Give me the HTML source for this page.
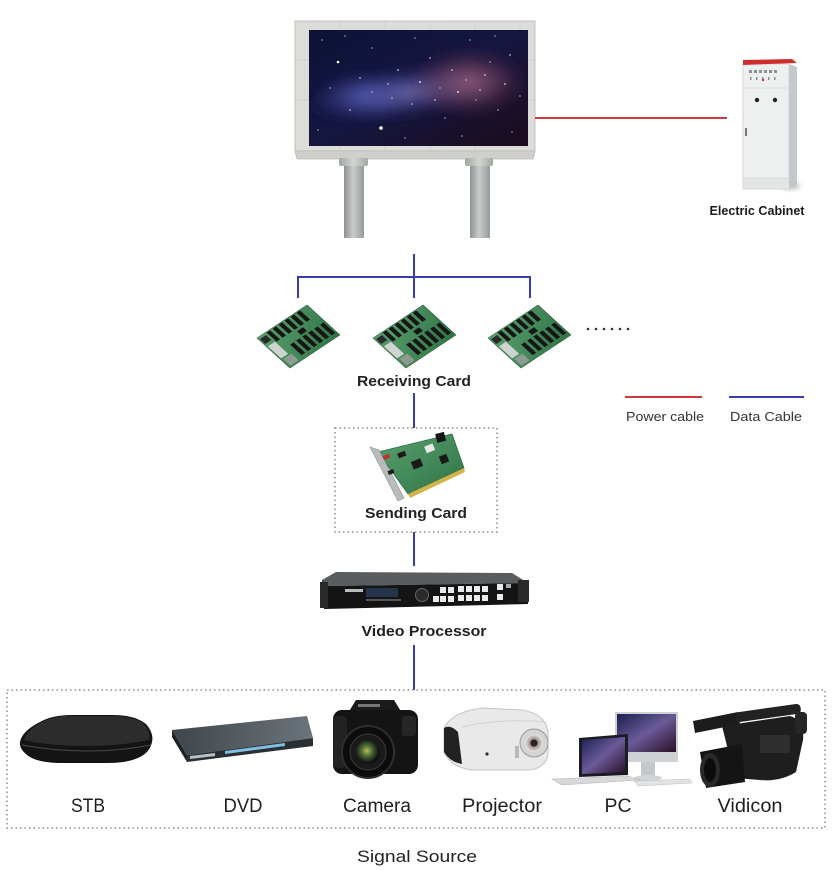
<!DOCTYPE html>
<html><head><meta charset="utf-8"><style>
html,body{margin:0;padding:0;background:#fff;}
svg{display:block;}
text{font-family:"Liberation Sans",Arial,sans-serif;}
</style></head><body>
<svg width="840" height="870" viewBox="0 0 840 870" xmlns="http://www.w3.org/2000/svg">
<defs>
  <radialGradient id="band" cx="50%" cy="50%" r="50%">
    <stop offset="0" stop-color="#8c86c4" stop-opacity="0.85"/>
    <stop offset="0.5" stop-color="#4a4a98" stop-opacity="0.55"/>
    <stop offset="1" stop-color="#1a1a50" stop-opacity="0"/>
  </radialGradient>
  <radialGradient id="pink" cx="50%" cy="50%" r="50%">
    <stop offset="0" stop-color="#a8687e" stop-opacity="0.8"/>
    <stop offset="0.6" stop-color="#6a3550" stop-opacity="0.45"/>
    <stop offset="1" stop-color="#3a1a30" stop-opacity="0"/>
  </radialGradient>
  <radialGradient id="blue" cx="50%" cy="50%" r="50%">
    <stop offset="0" stop-color="#5f6cc8" stop-opacity="0.7"/>
    <stop offset="1" stop-color="#2a3080" stop-opacity="0"/>
  </radialGradient>
  <linearGradient id="scr" x1="0" y1="0" x2="1" y2="1">
    <stop offset="0" stop-color="#0e1236"/>
    <stop offset="0.5" stop-color="#141640"/>
    <stop offset="1" stop-color="#1c0c1c"/>
  </linearGradient>
  <linearGradient id="pole" x1="0" y1="0" x2="1" y2="0">
    <stop offset="0" stop-color="#8e938e"/>
    <stop offset="0.45" stop-color="#c9ccc8"/>
    <stop offset="1" stop-color="#979b97"/>
  </linearGradient>
  <linearGradient id="cap" x1="0" y1="0" x2="1" y2="0">
    <stop offset="0" stop-color="#a0a4a0"/>
    <stop offset="0.5" stop-color="#d4d6d2"/>
    <stop offset="1" stop-color="#a2a6a2"/>
  </linearGradient>
  <linearGradient id="pcb" x1="0" y1="0" x2="1" y2="1">
    <stop offset="0" stop-color="#5aa06e"/>
    <stop offset="1" stop-color="#2f7446"/>
  </linearGradient>
  <linearGradient id="dvdtop" x1="0" y1="0" x2="1" y2="0">
    <stop offset="0" stop-color="#3e454b"/>
    <stop offset="1" stop-color="#6c757b"/>
  </linearGradient>
  <radialGradient id="lensg" cx="45%" cy="45%" r="50%">
    <stop offset="0" stop-color="#b6c050"/>
    <stop offset="0.45" stop-color="#4c6a3a"/>
    <stop offset="1" stop-color="#0e120e"/>
  </radialGradient>
  <radialGradient id="plens" cx="50%" cy="50%" r="50%">
    <stop offset="0" stop-color="#3a3030"/>
    <stop offset="0.5" stop-color="#a89a94"/>
    <stop offset="1" stop-color="#e8e4e2"/>
  </radialGradient>
  <linearGradient id="mon" x1="0" y1="0" x2="1" y2="1">
    <stop offset="0" stop-color="#1a2050"/>
    <stop offset="0.5" stop-color="#6a5a98"/>
    <stop offset="1" stop-color="#2a1028"/>
  </linearGradient>
  <filter id="bl" x="-30%" y="-30%" width="160%" height="160%"><feGaussianBlur stdDeviation="6"/></filter>
  <filter id="bl2" x="-30%" y="-30%" width="160%" height="160%"><feGaussianBlur stdDeviation="2"/></filter>
  <clipPath id="scrclip"><rect x="309" y="30" width="219" height="116"/></clipPath>
</defs>

<!-- ===== Billboard ===== -->
<rect x="295" y="21" width="240" height="130" fill="#dcddd9" stroke="#c2c3bf" stroke-width="1"/>
<polygon points="295,151 535,151 533,159 297,159" fill="#cfd0cc" stroke="#b9bab6" stroke-width="0.8"/>
<g stroke="#c8c9c5" stroke-width="0.6">
  <line x1="340" y1="21" x2="340" y2="29"/><line x1="385" y1="21" x2="385" y2="29"/>
  <line x1="430" y1="21" x2="430" y2="29"/><line x1="475" y1="21" x2="475" y2="29"/>
  <line x1="520" y1="21" x2="520" y2="29"/>
  <line x1="340" y1="146" x2="340" y2="159"/><line x1="385" y1="146" x2="385" y2="159"/>
  <line x1="430" y1="146" x2="430" y2="159"/><line x1="475" y1="146" x2="475" y2="159"/>
  <line x1="295" y1="60" x2="309" y2="60"/><line x1="295" y1="100" x2="309" y2="100"/>
  <line x1="528" y1="60" x2="535" y2="60"/><line x1="528" y1="100" x2="535" y2="100"/>
</g>
<g clip-path="url(#scrclip)">
  <rect x="309" y="30" width="219" height="116" fill="url(#scr)"/>
  <ellipse cx="410" cy="92" rx="115" ry="26" transform="rotate(-8 410 92)" fill="url(#band)" filter="url(#bl)"/>
  <ellipse cx="365" cy="95" rx="55" ry="24" fill="url(#blue)" filter="url(#bl)"/>
  <ellipse cx="470" cy="82" rx="62" ry="36" fill="url(#pink)" filter="url(#bl)"/>
  <g fill="#fff">
    <circle cx="338" cy="62" r="1.3"/><circle cx="381" cy="128" r="1.8"/><circle cx="322" cy="40" r="0.6"/>
    <circle cx="350" cy="110" r="0.7"/><circle cx="372" cy="48" r="0.6"/><circle cx="398" cy="70" r="0.8"/>
    <circle cx="412" cy="104" r="0.6"/><circle cx="430" cy="58" r="0.7"/><circle cx="445" cy="118" r="0.6"/>
    <circle cx="458" cy="92" r="0.9"/><circle cx="470" cy="40" r="0.6"/><circle cx="485" cy="75" r="0.7"/>
    <circle cx="498" cy="110" r="0.6"/><circle cx="510" cy="55" r="0.7"/><circle cx="520" cy="96" r="0.6"/>
    <circle cx="330" cy="88" r="0.6"/><circle cx="360" cy="78" r="0.7"/><circle cx="392" cy="98" r="0.6"/>
    <circle cx="420" cy="82" r="0.9"/><circle cx="440" cy="88" r="0.6"/><circle cx="452" cy="70" r="0.7"/>
    <circle cx="476" cy="100" r="0.6"/><circle cx="490" cy="62" r="0.6"/><circle cx="505" cy="84" r="0.8"/>
    <circle cx="318" cy="130" r="0.6"/><circle cx="405" cy="138" r="0.6"/><circle cx="462" cy="136" r="0.6"/>
    <circle cx="512" cy="132" r="0.6"/><circle cx="345" cy="36" r="0.6"/><circle cx="415" cy="38" r="0.6"/>
    <circle cx="495" cy="36" r="0.6"/><circle cx="435" cy="100" r="0.7"/><circle cx="466" cy="80" r="0.6"/>
    <circle cx="480" cy="90" r="0.7"/><circle cx="372" cy="92" r="0.6"/><circle cx="388" cy="84" r="0.7"/>
  </g>
</g>
<!-- poles -->
<rect x="344" y="163" width="20" height="75" fill="url(#pole)"/>
<rect x="339" y="158" width="29" height="8" rx="2" fill="url(#cap)"/>
<rect x="470" y="163" width="20" height="75" fill="url(#pole)"/>
<rect x="465" y="158" width="28" height="8" rx="2" fill="url(#cap)"/>

<!-- power cable -->
<line x1="535" y1="118" x2="727" y2="118" stroke="#d0383c" stroke-width="2"/>

<!-- ===== Electric cabinet ===== -->
<ellipse cx="790" cy="186" rx="10" ry="4" fill="#c8c8c8" filter="url(#bl2)"/>
<polygon points="789,64 797,67 797,186 789,189" fill="#c5c8ca"/>
<rect x="743" y="64" width="46" height="125" fill="#eef0f0" stroke="#cfd2d3" stroke-width="0.8"/>
<polygon points="743,60 792,59 797,63 743,65" fill="#cf2d2d"/>
<g fill="#8a9096">
  <rect x="749" y="70" width="3" height="3"/><rect x="754" y="70" width="3" height="3"/><rect x="759" y="70" width="3" height="3"/>
  <rect x="764" y="70" width="3" height="3"/><rect x="769" y="70" width="3" height="3"/><rect x="774" y="70" width="3" height="3"/>
  <rect x="750" y="77" width="1.5" height="3"/><rect x="756" y="77" width="1.5" height="3"/><rect x="762" y="77" width="1.5" height="3"/>
  <rect x="768" y="77" width="1.5" height="3"/><rect x="774" y="77" width="1.5" height="3"/>
</g>
<circle cx="763" cy="80" r="1.2" fill="#c33"/>
<line x1="743" y1="88" x2="789" y2="88" stroke="#d5d8d9" stroke-width="0.8"/>
<circle cx="757" cy="100" r="2.2" fill="#222"/>
<circle cx="775" cy="100" r="2.2" fill="#222"/>
<rect x="745" y="128" width="2" height="8" fill="#777"/>
<rect x="743" y="178" width="46" height="11" fill="#e4e6e6" stroke="#cfd2d3" stroke-width="0.6"/>
<text x="757" y="215" font-size="13" font-weight="bold" fill="#1c1c1c" text-anchor="middle" textLength="95" lengthAdjust="spacingAndGlyphs">Electric Cabinet</text>

<!-- ===== Data lines top ===== -->
<g stroke="#3a3cac" stroke-width="2" fill="none">
  <line x1="414" y1="254" x2="414" y2="298"/>
  <polyline points="298,298 298,277 530,277 530,298"/>
</g>

<!-- ===== Receiving cards ===== -->
<g id="rc">
  <g transform="matrix(0.5,-0.33,0.33,0.30,257,338)">
    <rect x="0" y="0" width="100" height="100" fill="url(#pcb)" stroke="#2a5a36" stroke-width="1"/>
    <g fill="#161616">
      <rect x="18" y="2" width="7" height="30"/><rect x="30" y="2" width="7" height="30"/>
      <rect x="42" y="2" width="7" height="30"/><rect x="54" y="2" width="7" height="30"/>
      <rect x="66" y="2" width="7" height="30"/><rect x="78" y="2" width="7" height="30"/>
      <rect x="30" y="55" width="7" height="35"/><rect x="42" y="55" width="7" height="35"/>
      <rect x="54" y="55" width="7" height="35"/><rect x="66" y="55" width="7" height="35"/>
      <rect x="78" y="55" width="7" height="35"/><rect x="90" y="55" width="7" height="35"/>
      <rect x="55" y="38" width="12" height="12"/>
    </g>
    <rect x="2" y="30" width="14" height="40" fill="#cfd4d0"/>
    <rect x="4" y="74" width="16" height="22" fill="#8f9a92"/>
    <rect x="2" y="6" width="12" height="16" fill="#2a2a2a"/>
  </g>
</g>
<use href="#rc" transform="translate(116,0)"/>
<use href="#rc" transform="translate(231,0)"/>

<!-- dots -->
<g fill="#333">
  <circle cx="588" cy="329" r="1.3"/><circle cx="596" cy="329" r="1.3"/><circle cx="604" cy="329" r="1.3"/>
  <circle cx="612" cy="329" r="1.3"/><circle cx="620" cy="329" r="1.3"/><circle cx="628" cy="329" r="1.3"/>
</g>

<text x="414" y="386" font-size="14.5" font-weight="bold" fill="#222" text-anchor="middle" textLength="114" lengthAdjust="spacingAndGlyphs">Receiving Card</text>

<!-- legend -->
<line x1="625" y1="397" x2="702" y2="397" stroke="#d0383c" stroke-width="2"/>
<line x1="729" y1="397" x2="804" y2="397" stroke="#3a3cac" stroke-width="2"/>
<text x="626" y="421" font-size="12.5" fill="#333" textLength="78" lengthAdjust="spacingAndGlyphs">Power cable</text>
<text x="730" y="421" font-size="12.5" fill="#333" textLength="72" lengthAdjust="spacingAndGlyphs">Data Cable</text>

<!-- stem to sending card -->
<line x1="414" y1="393" x2="414" y2="428" stroke="#3a3cac" stroke-width="2"/>

<!-- ===== Sending card box ===== -->
<rect x="335" y="428" width="162" height="104" fill="none" stroke="#8a8a8a" stroke-width="1.5" stroke-dasharray="1.5 3"/>
<polygon points="378,452 452,434 464,468 408,494" fill="url(#pcb)" stroke="#2c6a40" stroke-width="0.8"/>
<polygon points="408,494 464,468 465,472 410,498" fill="#d4b24a"/>
<polygon points="370,447 379,450 404,498 398,501" fill="#b8bcbc" stroke="#8a8e8e" stroke-width="0.6"/>
<rect x="436" y="433" width="9" height="9" fill="#151515" transform="rotate(-14 440 437)"/>
<g fill="#1a1a1a">
  <rect x="398" y="452" width="8" height="5" transform="rotate(-22 402 455)"/>
  <rect x="412" y="460" width="10" height="8" transform="rotate(-22 417 464)"/>
  <rect x="440" y="455" width="8" height="8" transform="rotate(-22 444 459)"/>
  <rect x="388" y="470" width="6" height="4" transform="rotate(-22 391 472)"/>
</g>
<rect x="425" y="445" width="9" height="7" fill="#e8e8e8" transform="rotate(-22 429 448)"/>
<rect x="383" y="455" width="7" height="4" fill="#c23030" transform="rotate(-22 386 457)"/>
<text x="416" y="518" font-size="14.5" font-weight="bold" fill="#222" text-anchor="middle" textLength="102" lengthAdjust="spacingAndGlyphs">Sending Card</text>

<line x1="414" y1="532" x2="414" y2="566" stroke="#3a3cac" stroke-width="2"/>

<!-- ===== Video processor ===== -->
<polygon points="322,580 336,572 512,573 528,583 328,586" fill="#5a5d60"/>
<polygon points="322,580 328,586 528,583 528,604 324,609" fill="#141414"/>
<rect x="518" y="580" width="11" height="22" fill="#2a2a2a"/>
<rect x="320" y="582" width="8" height="26" fill="#2a2a2a"/>
<rect x="345" y="589" width="18" height="3" fill="#bbb"/>
<rect x="366" y="588" width="32" height="9" fill="#24344a"/>
<rect x="366" y="599" width="35" height="2" fill="#555"/>
<circle cx="422" cy="595" r="6.5" fill="#2b2b2b" stroke="#666" stroke-width="1"/>
<g fill="#e8eaec">
  <rect x="433" y="596" width="6" height="6"/>
  <rect x="440" y="587" width="6" height="6"/><rect x="448" y="587" width="6" height="6"/>
  <rect x="440" y="596" width="6" height="6"/><rect x="448" y="596" width="6" height="6"/>
  <rect x="458" y="586" width="6" height="6"/><rect x="466" y="586" width="6" height="6"/>
  <rect x="474" y="586" width="6" height="6"/><rect x="482" y="586" width="6" height="6"/>
  <rect x="458" y="595" width="6" height="6"/><rect x="466" y="595" width="6" height="6"/>
  <rect x="474" y="595" width="6" height="6"/><rect x="482" y="595" width="6" height="6"/>
  <rect x="497" y="584" width="6" height="6"/><rect x="497" y="594" width="6" height="6"/>
</g>
<rect x="506" y="584" width="5" height="4" fill="#aaa"/>
<text x="424" y="636" font-size="14.5" font-weight="bold" fill="#222" text-anchor="middle" textLength="125" lengthAdjust="spacingAndGlyphs">Video Processor</text>

<line x1="414" y1="645" x2="414" y2="690" stroke="#3a3cac" stroke-width="2"/>

<!-- ===== Signal source box ===== -->
<rect x="7" y="690" width="818" height="138" fill="none" stroke="#8a8a8a" stroke-width="1.5" stroke-dasharray="1.5 3"/>

<!-- STB -->
<path d="M20,742 Q22,731 40,722 Q52,715 72,715 L113,715 Q135,715 146,724 Q154,733 152,742 Q150,752 140,757 Q128,763 108,763 L62,763 Q40,763 30,757 Q19,750 20,742 Z" fill="#141414"/>
<path d="M24,740 Q27,730 42,722 Q54,716 72,716 L112,716 Q133,716 144,724 Q151,732 149,740 Q120,746 86,746 Q50,746 24,740 Z" fill="#2c2c2c"/>
<path d="M22,745 Q55,751 86,751 Q120,751 151,745" fill="none" stroke="#4a4a4a" stroke-width="1"/>

<!-- DVD -->
<polygon points="172,730 307,716 313,738 187,755" fill="url(#dvdtop)"/>
<polygon points="187,755 313,738 313,746 187,762" fill="#2a2f34"/>
<polygon points="172,730 187,755 187,762 172,737" fill="#1e2226"/>
<polygon points="225,751 285,743 285,746 225,754" fill="#7ec0e0"/>
<polygon points="190,756 215,753 215,756 190,759" fill="#b8c0c6"/>

<!-- Camera -->
<polygon points="348,713 356,700 394,700 402,713" fill="#1a1a1a"/>
<rect x="333" y="710" width="85" height="64" rx="9" fill="#141414"/>
<rect x="333" y="716" width="14" height="52" rx="5" fill="#222"/>
<rect x="402" y="716" width="14" height="20" rx="3" fill="#262626"/>
<circle cx="368" cy="752" r="26" fill="#0c0c0c" stroke="#2e2e2e" stroke-width="2"/>
<circle cx="368" cy="752" r="18" fill="#1a1a1a" stroke="#3a3a3a" stroke-width="1"/>
<circle cx="368" cy="752" r="12" fill="url(#lensg)"/>
<rect x="358" y="704" width="22" height="3" fill="#777"/>

<!-- Projector -->
<path d="M444,728 Q452,712 482,708 L522,710 Q546,714 548,732 L548,755 Q545,768 530,770 L472,770 Q450,767 444,752 Z" fill="#e9e9e9" stroke="#c4c4c4" stroke-width="1"/>
<path d="M444,728 Q450,724 458,732 L462,764 Q450,762 444,752 Z" fill="#222"/>
<path d="M462,727 Q500,718 546,722" fill="none" stroke="#d2d2d2" stroke-width="1"/>
<circle cx="534" cy="743" r="14" fill="#d4d4d4" stroke="#9a9a9a" stroke-width="1"/>
<circle cx="534" cy="743" r="9" fill="url(#plens)"/>
<circle cx="534" cy="743" r="3.5" fill="#2a2224"/>
<rect x="515" y="746" width="4" height="12" fill="#b8b8b8"/>
<circle cx="487" cy="754" r="1.6" fill="#333"/>

<!-- PC -->
<rect x="615" y="712" width="63" height="50" fill="#cfd2d4"/>
<rect x="617" y="714" width="59" height="38" fill="url(#mon)"/>
<rect x="641" y="762" width="14" height="14" fill="#c5c8ca"/>
<ellipse cx="648" cy="778" rx="14" ry="3" fill="#d2d4d6"/>
<polygon points="579,738 628,734 628,775 579,777" fill="#1c1c22"/>
<polygon points="582,740 625,737 625,772 582,774" fill="url(#mon)"/>
<polygon points="552,779 628,776 640,780 562,785" fill="#d6d8da" stroke="#b2b4b6" stroke-width="0.6"/>
<polygon points="634,781 690,779 692,783 638,786" fill="#e0e2e3" stroke="#bcbec0" stroke-width="0.5"/>

<!-- Vidicon -->
<polygon points="693,721 738,712 740,724 695,733" fill="#1c1c1c"/>
<rect x="735" y="708" width="66" height="10" rx="4" fill="#222" transform="rotate(-8 768 713)"/>
<path d="M722,726 L790,716 Q805,720 803,740 L796,772 Q780,782 760,780 L735,778 Z" fill="#1e1e1e"/>
<polygon points="700,752 742,744 745,782 706,788" fill="#141414"/>
<ellipse cx="710" cy="770" rx="10" ry="17" fill="#2a2a2a"/>
<ellipse cx="710" cy="770" rx="6" ry="12" fill="#0c0c0c"/>
<rect x="760" y="735" width="30" height="18" fill="#2e2e2e"/>
<rect x="795" y="712" width="12" height="22" rx="4" fill="#262626"/>

<!-- device labels -->
<g font-size="19" fill="#1e1e1e" text-anchor="middle">
  <text x="88" y="812" textLength="34" lengthAdjust="spacingAndGlyphs">STB</text>
  <text x="243" y="812" textLength="39" lengthAdjust="spacingAndGlyphs">DVD</text>
  <text x="377" y="812" textLength="68" lengthAdjust="spacingAndGlyphs">Camera</text>
  <text x="502" y="812" textLength="80" lengthAdjust="spacingAndGlyphs">Projector</text>
  <text x="618" y="812" textLength="27" lengthAdjust="spacingAndGlyphs">PC</text>
  <text x="750" y="812" textLength="65" lengthAdjust="spacingAndGlyphs">Vidicon</text>
</g>
<text x="417" y="862" font-size="17" fill="#222" text-anchor="middle" textLength="120" lengthAdjust="spacingAndGlyphs">Signal Source</text>
</svg>
</body></html>
